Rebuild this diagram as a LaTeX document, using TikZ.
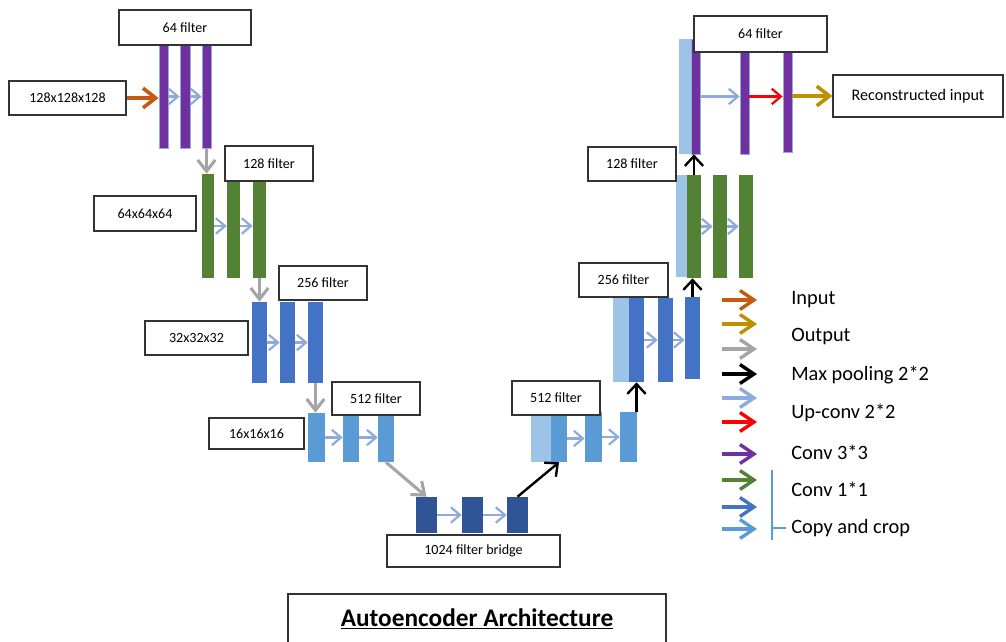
\documentclass[tikz,border=0pt]{standalone}
\usepackage{fontspec}
\setmainfont{Carlito}
\usetikzlibrary{arrows.meta, fit, positioning}
\definecolor{convPurple}{HTML}{7030A0}
\definecolor{convGreen}{HTML}{548235}
\definecolor{convBlue}{HTML}{4472C4}
\definecolor{midBlue}{HTML}{5B9BD5}
\definecolor{darkBlue}{HTML}{2F5597}
\definecolor{copyBlue}{HTML}{9DC3E6}
\definecolor{upBlue}{HTML}{8FAADC}
\definecolor{inOrange}{HTML}{C55A11}
\definecolor{outGold}{HTML}{BF9000}
\definecolor{poolGray}{HTML}{A5A5A5}
\tikzset{
    bar/.style={rectangle, inner sep=0pt, draw=none},
    purpleBar/.style={bar, draw=upBlue, line width=0.5pt},
    lblBox/.style={rectangle, draw=black!80, fill=white, inner sep=0pt, line width=0.9pt},
    lblText/.style={inner sep=0pt, font=\fontsize{10}{12}\selectfont},
    upConv/.style={-{Straight Barb[length=6.5pt, width=11pt]}, line width=1.6pt, upBlue},
    thickFlow/.style={-{Straight Barb[length=9pt, width=14pt]}, line width=2.6pt},
    pool/.style={-{Straight Barb[length=8pt, width=12.5pt]}, line width=2.2pt, poolGray},
    maxPool/.style={-{Straight Barb[length=7pt, width=13pt]}, line width=1.7pt, black},
    legArrow/.style={-{Straight Barb[length=10pt, width=13.5pt]}, line width=2.4pt},
    legText/.style={anchor=west, inner sep=0pt, font=\fontsize{14.5}{17}\selectfont},
}
\newcommand{\drawBar}[7][bar]{
    \node[#1, fill=#3, fit={(#4,#5) (#6,#7)}] (#2) {};
}
\newcommand{\drawLabel}[6]{
    \node[lblBox, fit={(#3,#4) (#5,#6)}] (#1) {};
    \node[lblText] (#1T) at (#1.center) {#2};
}
\newcommand{\chanUp}[3][upConv]{\draw[#1] (#2.east) -- (#2.east -| #3.west);}

\begin{document}
\begin{tikzpicture}[x=0.025cm, y=-0.025cm]
    \useasboundingbox (0,0) rectangle (1006,642);

    % encoder
    \drawBar[purpleBar]{enc64a}{convPurple}{159}{45}{168}{148}
    \drawBar[purpleBar]{enc64b}{convPurple}{180}{45}{190}{148}
    \drawBar[purpleBar]{enc64c}{convPurple}{202}{45}{211}{148}
    \drawBar{enc128a}{convGreen}{202}{174}{214}{278}
    \drawBar{enc128b}{convGreen}{227}{174}{240}{278}
    \drawBar{enc128c}{convGreen}{253}{174}{266}{278}
    \drawBar{enc256a}{convBlue}{252}{302}{267}{383}
    \drawBar{enc256b}{convBlue}{280}{302}{295}{383}
    \drawBar{enc256c}{convBlue}{308}{302}{323}{383}
    \drawBar{enc512a}{midBlue}{308}{413}{325}{462}
    \drawBar{enc512b}{midBlue}{343}{413}{359}{462}
    \drawBar{enc512c}{midBlue}{378}{413}{394}{462}

    % bridge
    \drawBar{bridgeA}{darkBlue}{416}{497}{437}{533}
    \drawBar{bridgeB}{darkBlue}{462}{497}{483}{533}
    \drawBar{bridgeC}{darkBlue}{507}{497}{528}{533}

    % decoder
    \drawBar{dec512cp}{copyBlue}{531}{415}{551}{462}
    \drawBar{dec512a}{midBlue}{551}{415}{567}{462}
    \drawBar{dec512b}{midBlue}{585}{412}{602}{462}
    \drawBar{dec512c}{midBlue}{620}{412}{637}{462}
    \drawBar{dec256cp}{copyBlue}{613}{298}{629}{382}
    \drawBar{dec256a}{convBlue}{629}{298}{644}{382}
    \drawBar{dec256b}{convBlue}{658}{298}{673}{382}
    \drawBar{dec256c}{convBlue}{685}{297}{700}{379}
    \drawBar{dec128cp}{copyBlue}{676}{175}{687}{277}
    \drawBar{dec128a}{convGreen}{687}{175}{701}{278}
    \drawBar{dec128b}{convGreen}{713}{175}{727}{278}
    \drawBar{dec128c}{convGreen}{739}{175}{753}{278}
    \drawBar{dec64cp}{copyBlue}{679}{39}{691}{154}
    \drawBar[purpleBar]{dec64a}{convPurple}{691}{39}{700}{154}
    \drawBar[purpleBar]{dec64b}{convPurple}{740}{50}{749}{154}
    \drawBar[purpleBar]{dec64c}{convPurple}{783}{50}{792}{152}

    % up-conv arrows
    \chanUp{enc64a}{enc64b}
    \chanUp{enc64b}{enc64c}
    \chanUp{enc128a}{enc128b}
    \chanUp{enc128b}{enc128c}
    \chanUp{enc256a}{enc256b}
    \chanUp{enc256b}{enc256c}
    \chanUp{enc512a}{enc512b}
    \chanUp{enc512b}{enc512c}
    \chanUp{bridgeA}{bridgeB}
    \chanUp{bridgeB}{bridgeC}
    \chanUp{dec512a}{dec512b}
    \chanUp{dec512b}{dec512c}
    \chanUp{dec256a}{dec256b}
    \chanUp{dec256b}{dec256c}
    \chanUp{dec128a}{dec128b}
    \chanUp{dec128b}{dec128c}
    \chanUp{dec64a}{dec64b}
    \draw[upConv, red] (dec64a.east -| dec64b.east) -- (dec64a.east -| dec64c.west);

    % pooling down / up
    \draw[pool] (enc64c.south) -- (enc64c.south |- enc128a.north);
    \draw[pool] (enc128c.south) -- (enc128c.south |- enc256a.north);
    \draw[pool] (enc256c.south) -- (enc256c.south |- enc512a.north);
    \draw[pool] (enc512c.south) -- (bridgeA.north);
    \draw[maxPool] (bridgeC.north) -- (dec512a.south);
    \draw[maxPool] (dec256a.south |- dec512c.north) -- (dec256a.south);
    \draw[maxPool] (dec256c.north) -- (dec256c.north |- dec128a.south);
    \draw[maxPool] (dec128a.north) -- (dec128a.north |- dec64a.south);

    % labels
    \drawLabel{lbl64}{64 filter}{119}{10}{251}{45}
    \drawLabel{lblIn}{128x128x128}{9}{81}{126}{115}
    \drawLabel{lbl128}{128 filter}{225}{146}{313}{181}
    \drawLabel{lblSz64}{64x64x64}{94}{196}{196}{231}
    \drawLabel{lbl256}{256 filter}{279}{266}{367}{300}
    \drawLabel{lblSz32}{32x32x32}{145}{321}{248}{355}
    \drawLabel{lbl512}{512 filter}{332}{382}{420}{415}
    \drawLabel{lblSz16}{16x16x16}{209}{418}{304}{449}
    \drawLabel{lblBridge}{1024 filter bridge}{387}{535}{560}{567}
    \drawLabel{lblDec512}{512 filter}{512}{381}{600}{415}
    \drawLabel{lblDec256}{256 filter}{579}{263}{668}{297}
    \drawLabel{lblDec128}{128 filter}{588}{147}{676}{181}
    \drawLabel{lblDec64}{64 filter}{694}{16}{827}{52}
    \drawLabel{lblOut}{\fontsize{11.5}{14}\selectfont Reconstructed input}{833}{75}{1003}{117}

    % input / output
    \draw[thickFlow, inOrange] (lblIn.east) -- (lblIn.east -| enc64a.west);
    \draw[thickFlow, outGold] (lblOut.west -| dec64c.east) -- (lblOut.west);

    % legend
    \foreach \col/\yy [count=\i] in {inOrange/300, outGold/324, poolGray/349, black/374, upBlue/398, red/422, convPurple/454, convGreen/480, convBlue/507, midBlue/529} {
        \coordinate (legS\i) at (722,\yy);
        \coordinate (legE\i) at (757,\yy);
        \draw[legArrow, \col] (legS\i) -- (legE\i);
    }
    \foreach \txt/\yy/\nm in {Input/300/legInput, Output/337/legOutput, Max pooling 2*2/375/legPool, Up-conv 2*2/413/legUp, Conv 3*3/452/legConvA, Conv 1*1/489/legConvB, Copy and crop/528/legCopy} {
        \node[legText] (\nm) at (791,\yy) {\txt};
    }
    \coordinate (brTop) at (772,470);
    \coordinate (brBot) at (772,540);
    \coordinate (brTick) at (786,528);
    \draw[midBlue, line width=1.6pt] (brTop) -- (brBot);
    \draw[midBlue, line width=1.6pt] (brTop |- brTick) -- (brTick);

    % title
    \node[lblBox, fill=none, fit={(288,594) (666,650)}] (titleBox) {};
    \node[font=\fontsize{18}{21}\selectfont] (title) at (477,619) {\underline{\textbf{Autoencoder Architecture}}};

\end{tikzpicture}
\end{document}
